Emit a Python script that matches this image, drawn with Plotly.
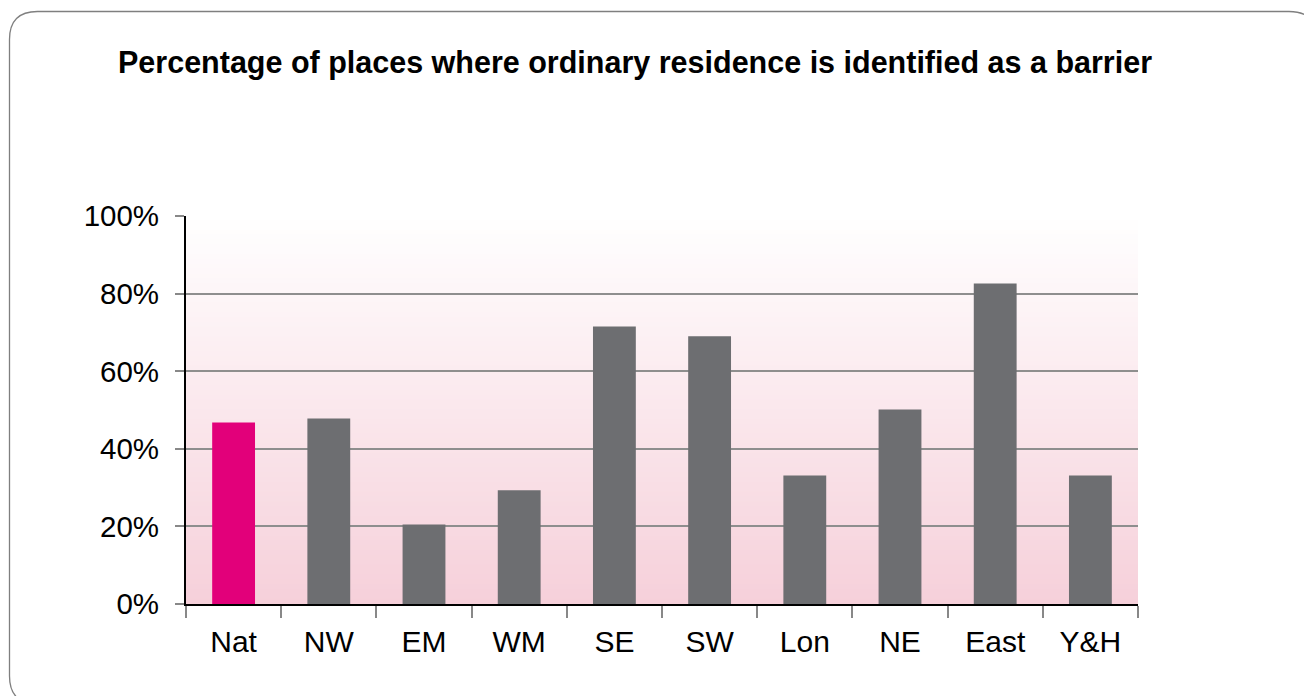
import plotly.graph_objects as go

categories = ["Nat", "NW", "EM", "WM", "SE", "SW", "Lon", "NE", "East", "Y&H"]
values = [46.8, 47.8, 20.5, 29.3, 71.5, 69.0, 33.1, 50.1, 82.6, 33.1]
bar_colors = ["#e2007a"] + ["#6d6e71"] * 9
y_ticks = [0, 20, 40, 60, 80, 100]

W, H = 1304, 696
L, R, T, B = 186, 166, 216, 92
pw, ph = W - L - R, H - T - B

def px2paper(x, y):
    return ((x - L) / pw, (H - B - y) / ph)

fig = go.Figure(go.Bar(x=categories, y=values, marker=dict(color=bar_colors, line=dict(width=0)),
                       width=0.45))

shapes = []
# vertical gradient background inside plot area
n = 80
top = (255, 255, 255)
bot = (246, 208, 218)
for i in range(n):
    t = (i + 0.5) / n
    c = tuple(round(top[k] + (bot[k] - top[k]) * t) for k in range(3))
    shapes.append(dict(type="rect", xref="paper", yref="paper", x0=0, x1=1,
                       y0=1 - (i + 1) / n, y1=1 - i / n + 0.002,
                       fillcolor="rgb(%d,%d,%d)" % c, line=dict(width=0), layer="below"))

# rounded outer border
x0, x1, y0, y1, r = 9.5, 1317, 11.5, 704, 28
pts = [
    ("M", (x0 + r, y0)), ("L", (x1 - r, y0)), ("Q", (x1, y0), (x1, y0 + r)),
    ("L", (x1, y1 - r)), ("Q", (x1, y1), (x1 - r, y1)), ("L", (x0 + r, y1)),
    ("Q", (x0, y1), (x0, y1 - r)), ("L", (x0, y0 + r)), ("Q", (x0, y0), (x0 + r, y0)),
]
path = ""
for seg in pts:
    cmd = seg[0]
    coords = " ".join("%.5f,%.5f" % px2paper(*p) for p in seg[1:])
    path += f"{cmd} {coords} "
path += "Z"
shapes.append(dict(type="path", xref="paper", yref="paper", path=path,
                   line=dict(color="#7f7f7f", width=1.3), layer="below"))

fig.update_layout(
    width=W, height=H,
    margin=dict(l=L, r=R, t=T, b=B),
    paper_bgcolor="white", plot_bgcolor="rgba(0,0,0,0)",
    font=dict(family="Liberation Sans, Arial, sans-serif", color="#000000", size=29),
    title=dict(text="<b>Percentage of places where ordinary residence is identified as a barrier</b>",
               x=118 / W, xanchor="left", xref="container",
               y=1 - 62 / H, yanchor="middle", yref="container",
               font=dict(size=30.5, color="#000000")),
    showlegend=False,
    shapes=shapes,
    bargap=0.55,
)
fig.update_xaxes(showline=True, linecolor="#000000", linewidth=2,
                 ticks="outside", tickson="boundaries", ticklen=12, tickcolor="#888888", tickwidth=2,
                 showgrid=False, tickfont=dict(size=30), ticklabelstandoff=10)
fig.update_yaxes(range=[0, 100], tickvals=y_ticks, ticktext=[f"{v}%" for v in y_ticks],
                 showline=True, linecolor="#000000", linewidth=2,
                 ticks="outside", ticklen=9, tickcolor="#888888", tickwidth=1.5,
                 showgrid=True, gridcolor="#8e8e8e", gridwidth=1.5, zeroline=False,
                 tickfont=dict(size=29.5), ticklabelstandoff=10)

fig.write_html("out.html", config={"displayModeBar": False},
               post_script="document.body.style.margin='0';document.body.style.overflow='hidden';")
